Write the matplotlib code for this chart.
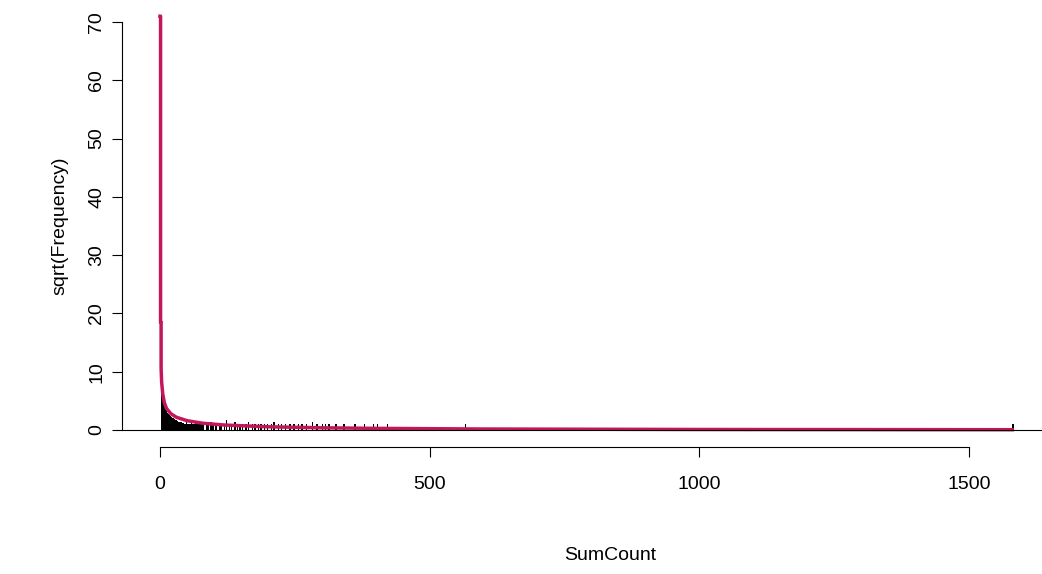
import matplotlib.pyplot as plt

plt.rcParams["font.family"] = ["Liberation Sans", "DejaVu Sans"]

# sqrt(frequency) of SumCount, unit-width bins starting at 1
dense_sqrt_freq = [10.2, 8.0, 7.0, 6.1, 5.4, 4.9, 4.5, 4.2, 3.9, 3.6,
                   3.4, 3.2, 3.0, 2.9, 2.8, 2.7, 2.6, 2.5, 2.4, 2.3,
                   2.2, 2.1, 2.05, 2.0, 1.9, 1.85, 1.8, 1.75, 1.7, 1.65,
                   1.6, 1.55, 1.5, 1.45, 1.4, 1.4, 1.35, 1.3, 1.3, 1.25,
                   1.2, 1.2, 1.15, 1.1, 1.1, 1.4, 1.0, 1.0, 1.4, 1.0,
                   1.0, 1.0, 1.4, 1.0, 1.0, 1.0, 1.0, 1.4, 1.0, 1.0,
                   1.0, 1.0, 1.0, 1.0, 1.4, 1.0, 1.0, 1.0, 1.0, 1.0,
                   1.0, 1.0, 1.0, 1.0, 1.0, 1.0, 1.0, 1.0, 1.0, 1.0]
dense_start = 1
# isolated counts further out
sparse_x = [85, 88, 93, 97, 101, 104, 110, 113, 118, 122, 127, 131, 138, 142,
            147, 152, 158, 163, 170, 175, 181, 186, 193, 198, 205, 210, 218,
            224, 231, 240, 247, 255, 262, 270, 281, 290, 300, 305, 312, 325,
            340, 360, 378, 395, 402, 420, 565, 1580]
sparse_sqrt_freq = [1.0, 1.0, 1.4, 1.0, 1.0, 1.0, 1.0, 1.0, 1.0, 1.7, 1.0, 1.0, 1.4, 1.0,
                    1.0, 1.0, 1.0, 1.4, 1.0, 1.0, 1.0, 1.0, 1.0, 1.0, 1.0, 1.4, 1.0,
                    1.0, 1.0, 1.0, 1.0, 1.0, 1.0, 1.0, 1.4, 1.0, 1.0, 1.0, 1.0, 1.0,
                    1.0, 1.0, 1.0, 1.0, 1.0, 1.0, 1.0, 1.0]

# fitted curve (sqrt scale)
fit_x = [0, 1, 1, 2, 2, 3, 5, 8, 12, 20, 30, 50, 80, 120, 200, 300, 400, 600, 1000, 1580]
fit_y = [71, 71, 18.5, 18.5, 10.6, 8.2, 6.2, 4.7, 3.7, 2.8, 2.2, 1.6, 1.15, 0.85, 0.55,
         0.38, 0.28, 0.17, 0.09, 0.05]

fig = plt.figure(figsize=(10.42, 5.74), dpi=100)
W, H = 1042, 574
ax = fig.add_axes([122 / W, 1 - 430 / H, (1042 - 122) / W, (430 - 22) / H])

dense_x = list(range(dense_start, dense_start + len(dense_sqrt_freq)))
ax.bar(dense_x, dense_sqrt_freq, width=1.0, align="edge", color="black", linewidth=0)
ax.bar(sparse_x, sparse_sqrt_freq, width=2.5, align="edge", color="black", linewidth=0)
ax.plot(fit_x, fit_y, color="#C2185B", lw=2.5, clip_on=False)

ax.set_xlim(-70.5, 1635)
ax.set_ylim(0, 70)
ax.spines["top"].set_visible(False)
ax.spines["right"].set_visible(False)
ax.spines["left"].set_bounds(0, 70)
ax.set_yticks(range(0, 71, 10))
ax.set_yticklabels([str(v) for v in range(0, 71, 10)], rotation=90, va="center", fontsize=14)
ax.tick_params(axis="y", length=7, pad=5)
ax.set_xticks([])
ax.set_ylabel("sqrt(Frequency)", fontsize=14, labelpad=14)

# separate R-style x axis below
axb = fig.add_axes([122 / W, 1 - 447 / H, (1042 - 122) / W, 0.001])
axb.set_xlim(-70.5, 1635)
for s in ["top", "left", "right"]:
    axb.spines[s].set_visible(False)
axb.spines["bottom"].set_bounds(0, 1500)
axb.set_yticks([])
axb.set_xticks([0, 500, 1000, 1500])
axb.tick_params(axis="x", length=7, labelsize=14, pad=14)
axb.patch.set_visible(False)
fig.text(610 / W, 1 - 556 / H, "SumCount", ha="center", va="center", fontsize=14)

fig.savefig("out.png", dpi=100)
